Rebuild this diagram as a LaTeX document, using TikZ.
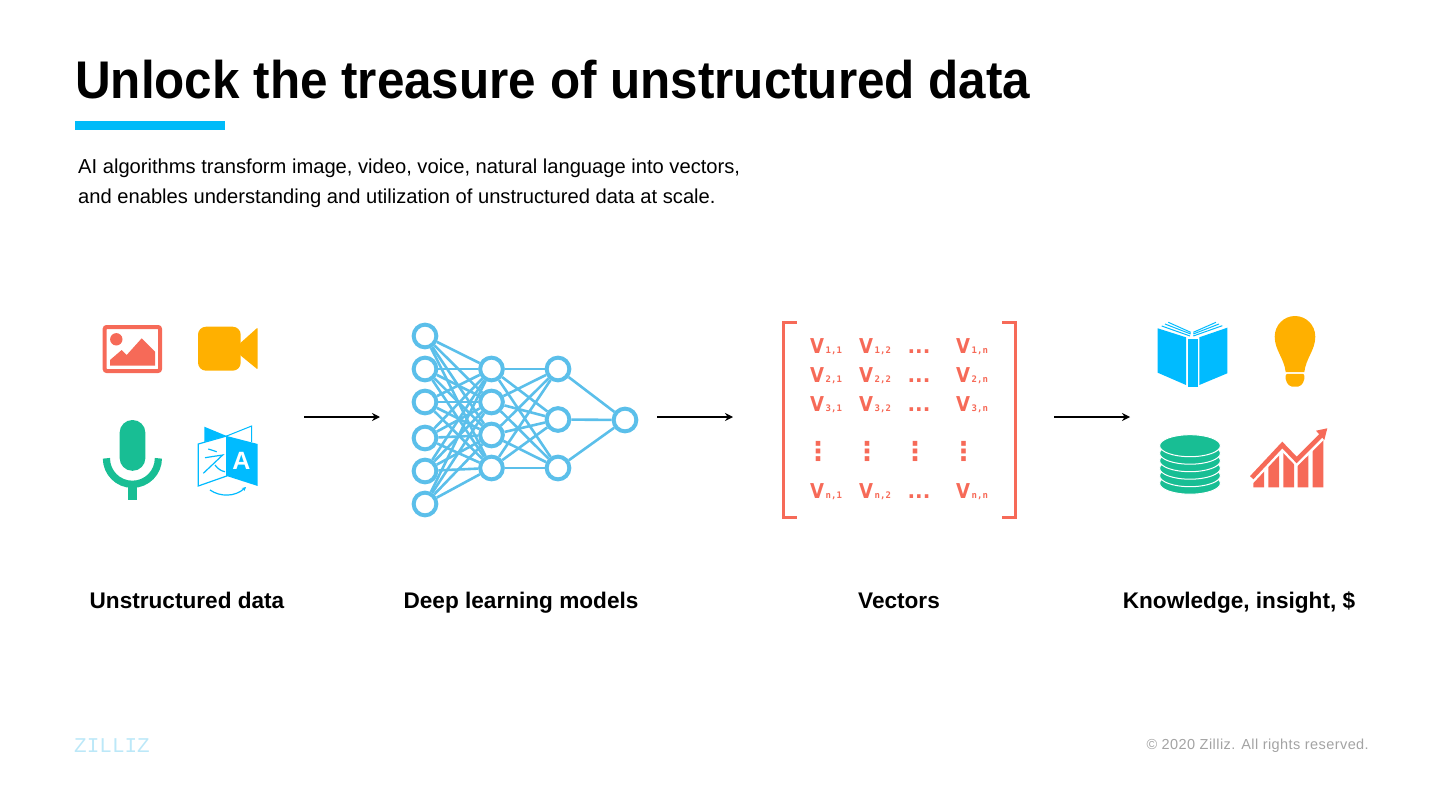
\documentclass[tikz,border=0pt]{standalone}
\usepackage{fontspec}
\usepackage{tikz}
\usetikzlibrary{positioning,calc,arrows.meta}
\setmainfont{Liberation Sans}
\newfontfamily\titlefont[FakeStretch=0.932]{Liberation Sans Bold}
\newfontfamily\entryfont[FakeStretch=0.88]{DejaVu Sans Bold}
\newfontfamily\dotsfont{DejaVu Sans Bold}
\newfontfamily\monofont{DejaVu Sans Mono Bold}
\newfontfamily\logofont{Liberation Mono}
\newfontfamily\footerfont[LetterSpace=3]{Liberation Sans}
\definecolor{Accent}{HTML}{00BBF9}
\definecolor{Coral}{HTML}{F66A58}
\definecolor{Amber}{HTML}{FFB000}
\definecolor{Mint}{HTML}{18BE94}
\definecolor{Sky}{HTML}{00BBFF}
\definecolor{Neuron}{HTML}{5BBFEA}
\definecolor{Footer}{HTML}{A3A3A3}
\definecolor{Logo}{HTML}{BCE8F8}
\tikzset{
	neuron/.style={circle,draw=Neuron,fill=white,line width=4pt,minimum size=22.7pt,inner sep=0pt},
	synapse/.style={draw=Neuron,line width=2.6pt},
	flowarrow/.style={draw=black,line width=1.8pt,-{Stealth[length=8pt,width=8pt]}},
	caption/.style={font=\fontsize{22.6}{26}\selectfont\bfseries,inner sep=0pt,anchor=base},
	entry/.style={text=Coral,inner sep=0pt,anchor=base west,font=\entryfont\fontsize{20.5}{20.5}\selectfont},
	dotsentry/.style={text=Coral,inner sep=0pt,anchor=base,font=\dotsfont\fontsize{20}{20}\selectfont},
	vdotsentry/.style={text=Coral,inner sep=0pt,font=\dotsfont\fontsize{26}{26}\selectfont},
}
\newcommand{\vsub}[1]{V\kern1.5pt{\monofont\fontsize{9}{9}\selectfont #1}}
\begin{document}
\begin{tikzpicture}[x=1pt,y=-1pt]
	\useasboundingbox (0,0) rectangle (1440,810);
	
	% Heading
	\node[anchor=west,inner sep=0pt,font=\titlefont\fontsize{53}{60}\selectfont] (title) at (75,80) {Unlock the treasure of unstructured data};
	\node[fill=Accent,minimum width=150pt,minimum height=9pt,inner sep=0pt,anchor=north west] (titlebar) at (75,121) {};
	\node[anchor=north west,inner sep=0pt,align=left,font=\fontsize{20.15}{30}\selectfont] (intro) at (78,159)
	{AI algorithms transform image, video, voice, natural language into vectors,\\
		and enables understanding and utilization of unstructured data at scale.};
	
	% Image icon
	\draw[Coral,line width=4pt,rounded corners=2pt] (104.7,327) rectangle (160,371);
	\fill[Coral] (116.3,339.3) circle (6.2);
	\fill[Coral] (110,360) -- (121.7,350) -- (126.7,355) -- (141.7,338.3) -- (155,351.7) -- (155,365.7) -- (110,365.7) -- cycle;
	
	% Video icon
	\fill[Amber,rounded corners=8pt] (198,326.7) rectangle (240.7,370.7);
	\fill[Amber,rounded corners=1pt] (240,343.3) -- (257.7,327.5) -- (257.7,369.5) -- (240,355) -- cycle;
	
	% Microphone icon
	\fill[Mint,rounded corners=12.8pt] (119.6,420) rectangle (145.4,470.8);
	\draw[Mint,line width=7.2pt] (106.4,458.3) arc (180:0:26);
	\fill[Mint] (128.4,484) rectangle (136.6,500);
	
	% Translation icon
	\fill[Sky] (204.3,426.7) -- (226.7,436) -- (204.3,442) -- cycle;
	\draw[Sky,line width=1pt] (226.7,436) -- (251.7,426) -- (251.7,442);
	\draw[Sky,line width=1.2pt,fill=white] (198.3,444) -- (226.7,436) -- (226.7,476) -- (198.3,486) -- cycle;
	\fill[Sky] (226.7,436) -- (257.7,444) -- (257.7,486) -- (226.7,476) -- cycle;
	\node[text=white,inner sep=0pt,font=\fontsize{25}{25}\selectfont\bfseries] (letter) at (241.5,460.5) {A};
	\draw[Sky,line width=1.2pt] (208.3,449) -- (216.7,451.7) (205,457.7) -- (222.7,455) -- (203.3,473.3) (215,465) .. controls (218,469) and (221,471) .. (225,471.7);
	\draw[Sky,line width=1.2pt,-{Stealth[length=4pt,width=4pt]}] (210,490) .. controls (220,497) and (235,497) .. (246,487);
	
	% Network nodes
	\node[neuron] (in1) at (425,336) {};
	\node[neuron] (in2) at (425,369) {};
	\node[neuron] (in3) at (425,402) {};
	\node[neuron] (in4) at (425,438) {};
	\node[neuron] (in5) at (425,471) {};
	\node[neuron] (in6) at (425,504) {};
	\node[neuron] (hid1) at (491.5,369) {};
	\node[neuron] (hid2) at (491.5,402) {};
	\node[neuron] (hid3) at (491.5,435) {};
	\node[neuron] (hid4) at (491.5,468) {};
	\node[neuron] (deep1) at (558,369) {};
	\node[neuron] (deep2) at (558,419.5) {};
	\node[neuron] (deep3) at (558,468) {};
	\node[neuron] (out) at (625,420) {};
	
	% Network connectors
	\foreach \a in {1,...,6}
	\foreach \b in {1,...,4}
	\draw[synapse] (in\a) -- (hid\b);
	\foreach \a in {1,...,4}
	\foreach \b in {1,...,3}
	\draw[synapse] (hid\a) -- (deep\b);
	\foreach \a in {1,...,3}
	\draw[synapse] (deep\a) -- (out);
	
	% Matrix brackets
	\draw[Coral,line width=3pt] (796.5,322.5) -- (783,322.5) -- (783,517) -- (796.5,517);
	\draw[Coral,line width=3pt] (1002,322.5) -- (1015.5,322.5) -- (1015.5,517) -- (1002,517);
	
	% Matrix entries
	\node[entry] (v11) at (810,353) {\vsub{1,1}};
	\node[entry] (v12) at (859,353) {\vsub{1,2}};
	\node[dotsentry] (d1) at (919,353) {...};
	\node[entry] (v1n) at (956,353) {\vsub{1,n}};
	\node[entry] (v21) at (810,382) {\vsub{2,1}};
	\node[entry] (v22) at (859,382) {\vsub{2,2}};
	\node[dotsentry] (d2) at (919,382) {...};
	\node[entry] (v2n) at (956,382) {\vsub{2,n}};
	\node[entry] (v31) at (810,411) {\vsub{3,1}};
	\node[entry] (v32) at (859,411) {\vsub{3,2}};
	\node[dotsentry] (d3) at (919,411) {...};
	\node[entry] (v3n) at (956,411) {\vsub{3,n}};
	\node[vdotsentry] (u1) at (818,451) {⋮};
	\node[vdotsentry] (u2) at (867,451) {⋮};
	\node[vdotsentry] (u3) at (915,451) {⋮};
	\node[vdotsentry] (u4) at (963.5,451) {⋮};
	\node[entry] (vn1) at (810,498) {\vsub{n,1}};
	\node[entry] (vn2) at (859,498) {\vsub{n,2}};
	\node[dotsentry] (dn) at (919,498) {...};
	\node[entry] (vnn) at (956,498) {\vsub{n,n}};
	
	% Book icon
	\fill[Sky] (1157.7,328.3) -- (1186,337.3) -- (1186,385) -- (1157.7,372.7) -- cycle;
	\fill[Sky] (1199.3,337.3) -- (1227.3,327.7) -- (1227.3,373.3) -- (1199.3,385) -- cycle;
	\fill[Sky] (1187.7,339) rectangle (1197.7,386.7);
	\draw[Sky,line width=1pt] (1161.7,326) -- (1190,336) (1165,324) -- (1190.7,334) (1168.3,322.3) -- (1190.7,332.3);
	\draw[Sky,line width=1pt] (1193.3,336) -- (1222.3,325.7) (1193.3,334) -- (1219,324) (1193.3,332.3) -- (1216,322.3);
	
	% Bulb icon
	\fill[Amber] (1285.7,372) .. controls (1284,358) and (1274.7,350) .. (1274.7,336.7) .. controls (1274.7,325) and (1284,316) .. (1295,316) .. controls (1306,316) and (1315.3,325) .. (1315.3,336.7) .. controls (1315.3,350) and (1306,358) .. (1304.3,372) -- cycle;
	\fill[Amber,rounded corners=2pt] (1285.7,373.8) -- (1304.3,373.8) -- (1304.3,381) -- (1300,386.7) -- (1290,386.7) -- (1285.7,381) -- cycle;
	
	% Stack icon
	\foreach \level in {5,...,0}
	\draw[fill=Mint,draw=white,line width=1pt] (1190,445.7+7.5*\level) ellipse (30.4 and 11);
	
	% Chart icon
	\fill[Coral] (1253.3,487.3) -- (1253.3,476) -- (1264,464.6) -- (1264,487.3) -- cycle;
	\fill[Coral] (1268.3,487.3) -- (1268.3,460) -- (1279,448.5) -- (1279,487.3) -- cycle;
	\fill[Coral] (1283.3,487.3) -- (1283.3,446) -- (1294,457) -- (1294,487.3) -- cycle;
	\fill[Coral] (1297.7,487.3) -- (1297.7,459) -- (1308.3,448.5) -- (1308.3,487.3) -- cycle;
	\fill[Coral] (1312.7,487.3) -- (1312.7,444) -- (1323.3,433.3) -- (1323.3,487.3) -- cycle;
	\draw[white,line width=9.5pt] (1247,482.7) -- (1282.3,445) -- (1296.7,460) -- (1327,430);
	\draw[Coral,line width=4.6pt] (1251.7,477.7) -- (1282.3,445) -- (1296.7,460) -- (1321,435.5);
	\fill[Coral] (1327.3,428.3) -- (1316,430.7) -- (1324.3,440) -- cycle;
	
	% Stage arrows
	\coordinate (a1) at (304,417);
	\coordinate (b1) at (380,417);
	\coordinate (a2) at (657,417);
	\coordinate (b2) at (733,417);
	\coordinate (a3) at (1054,417);
	\coordinate (b3) at (1130,417);
	\draw[flowarrow] (a1) -- (b1);
	\draw[flowarrow] (a2) -- (b2);
	\draw[flowarrow] (a3) -- (b3);
	
	% Stage captions
	\node[caption] (unstructured) at (187,608) {Unstructured data};
	\node[caption] (models) at (521,608) {Deep learning models};
	\node[caption] (vectors) at (899,608) {Vectors};
	\node[caption] (knowledge) at (1239,608) {Knowledge, insight, \$};
	
	% Footer
	\node[anchor=west,inner sep=0pt,text=Logo,font=\logofont\fontsize{21}{21}\selectfont] (logo) at (74,746) {ZILLIZ};
	\node[anchor=east,inner sep=0pt,text=Footer,font=\footerfont\fontsize{14.5}{16}\selectfont] (rights) at (1369,746) {© 2020 Zilliz. All rights reserved.};
\end{tikzpicture}
\end{document}
